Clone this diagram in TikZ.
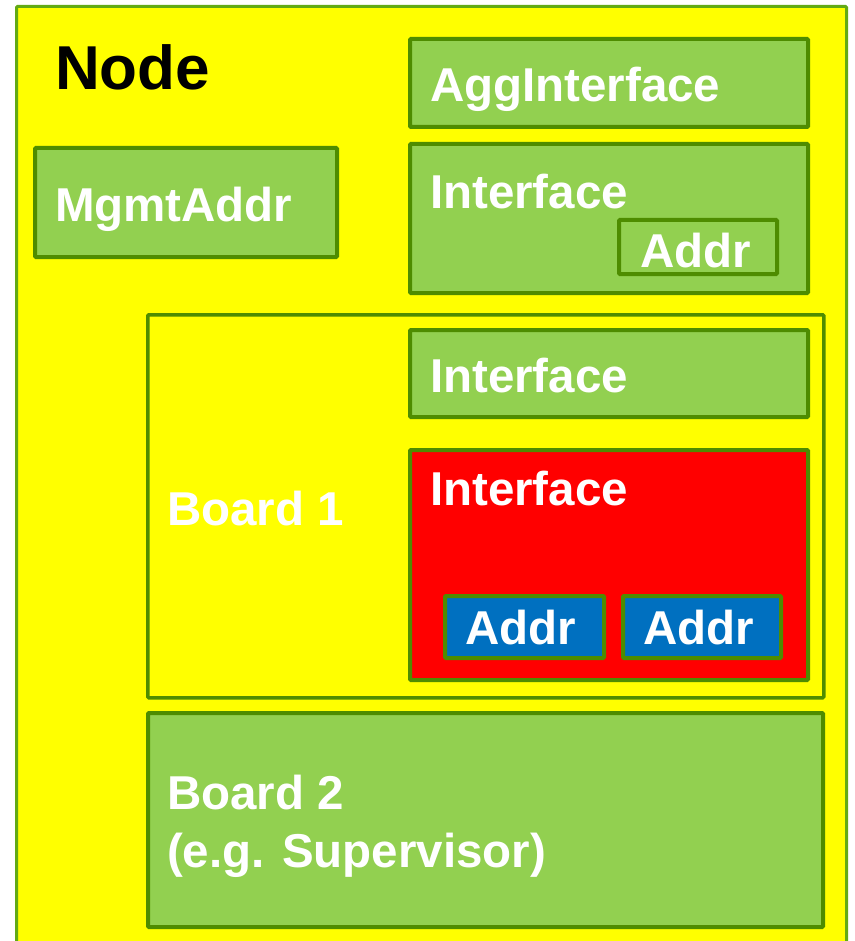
\documentclass[tikz,border=0pt]{standalone}
\usepackage{fontspec}
\setmainfont{Liberation Sans}
\definecolor{lgreen}{HTML}{92D050}
\definecolor{dgreen}{HTML}{4E8C00}
\definecolor{ogreen}{HTML}{62AA14}
\definecolor{yel}{HTML}{FFFF00}
\definecolor{redf}{HTML}{FF0000}
\definecolor{bluef}{HTML}{0070C0}
\tikzset{
  boxg/.style={draw=dgreen, line width=4pt, fill=lgreen, rounded corners=1pt,
    anchor=north west, inner sep=0pt, outer sep=0pt},
  lbl/.style={anchor=base west, inner sep=0pt, outer sep=0pt, text=white,
    font=\fontsize{47.5}{57}\selectfont\bfseries},
}
\begin{document}
\begin{tikzpicture}[x=1pt,y=-1pt]
\useasboundingbox (0,0) rectangle (854,941);
\clip (0,0) rectangle (854,941);
% outer Node frame
\node[boxg, draw=ogreen, line width=3pt, fill=yel, minimum width=830pt, minimum height=980pt] (node) at (16.5,6.5) {};
\node[lbl, text=black, font=\fontsize{62}{70}\selectfont\bfseries] (nodet) at (55,90) {Node};
% AggInterface
\node[boxg, minimum width=398pt, minimum height=88pt] (agg) at (410,39) {};
\node[lbl] (aggt) at (430,102) {AggInterface};
% MgmtAddr
\node[boxg, minimum width=302pt, minimum height=109pt] (mgmt) at (35,148) {};
\node[lbl] (mgmtt) at (55,222) {MgmtAddr};
% Interface with Addr
\node[boxg, minimum width=398pt, minimum height=149pt] (ifa) at (410,144) {};
\node[lbl] (ifat) at (430,208) {Interface};
\node[boxg, minimum width=158pt, minimum height=54pt] (addra) at (619,220) {};
\node[lbl] (addrat) at (640,267) {Addr};
% Board 1
\node[boxg, fill=yel, line width=3.5pt, minimum width=676pt, minimum height=383pt] (board1) at (147.75,314.75) {};
\node[lbl] (board1t) at (167,525) {Board 1};
\node[boxg, minimum width=398pt, minimum height=87pt] (ifb) at (410,330) {};
\node[lbl] (ifbt) at (430,392) {Interface};
\node[boxg, fill=redf, minimum width=398pt, minimum height=230pt] (ifc) at (410,450) {};
\node[lbl] (ifct) at (430,505) {Interface};
\node[boxg, fill=bluef, minimum width=159pt, minimum height=62pt] (addrb) at (445,596) {};
\node[lbl] (addrbt) at (465,644) {Addr};
\node[boxg, fill=bluef, minimum width=158pt, minimum height=62pt] (addrc) at (623,596) {};
\node[lbl] (addrct) at (643,644) {Addr};
% Board 2
\node[boxg, minimum width=675pt, minimum height=214pt] (board2) at (148,713) {};
\node[lbl] (board2t) at (167,809) {Board 2};
\node[lbl] (board2u) at (167,867) {(e.g. Supervisor)};
\end{tikzpicture}
\end{document}
